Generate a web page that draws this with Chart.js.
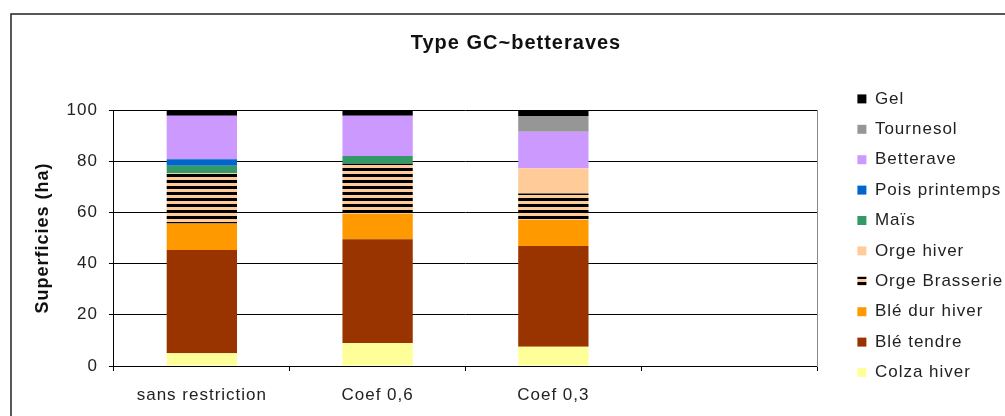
<!DOCTYPE html>
<html>
<head>
<meta charset="utf-8">
<script src="https://cdn.jsdelivr.net/npm/chart.js@4.4.1/dist/chart.umd.min.js"></script>
<style>
  html, body { margin: 0; padding: 0; background: #fff; }
  #wrap { width: 1005px; height: 416px; }
</style>
</head>
<body>
<div id="wrap"><canvas id="barChart"></canvas></div>
<script>
// values (ha)
const categories = ['sans restriction', 'Coef 0,6', 'Coef 0,3', ''];
const colzaHiver = [5, 9, 7.5, null];
const bleTendre = [40.3, 40.5, 39.4, null];
const bleDurHiver = [10.4, 10, 10.1, null];
const orgeBrasserie = [19.6, 19.5, 10.4, null];
const orgeHiver = [0, 0, 9.8, null];
const mais = [2.9, 3, 0, null];
const poisPrintemps = [2.6, 0, 0, null];
const betterave = [17, 15.8, 14.3, null];
const tournesol = [0, 0, 6.2, null];
const gel = [2.2, 2.2, 2.3, null];
const yTicks = [0, 20, 40, 60, 80, 100];

const FONT = "'Liberation Sans', Arial, sans-serif";
Chart.defaults.font.family = FONT;
Chart.defaults.color = '#222';

function stripes() {
    const c = document.createElement('canvas');
    c.width = 6; c.height = 6;
    const g = c.getContext('2d');
    g.fillStyle = '#FFCC99';
    g.fillRect(0, 0, 6, 6);
    g.fillStyle = '#000';
    g.fillRect(0, 0, 6, 3);
    return g.createPattern(c, 'repeat');
}

const ds = (label, data, color) => ({ label, data, backgroundColor: color, borderWidth: 0 });

const data = {
    labels: categories,
    datasets: [
        ds('Colza hiver', colzaHiver, '#FFFF99'),
        ds('Blé tendre', bleTendre, '#993300'),
        ds('Blé dur hiver', bleDurHiver, '#FF9900'),
        ds('Orge Brasserie', orgeBrasserie, stripes()),
        ds('Orge hiver', orgeHiver, '#FFCC99'),
        ds('Maïs', mais, '#339966'),
        ds('Pois printemps', poisPrintemps, '#0066CC'),
        ds('Betterave', betterave, '#CC99FF'),
        ds('Tournesol', tournesol, '#969696'),
        ds('Gel', gel, '#000000')
    ]
};

// wide-set lettering like the original, plus the outer frame
const look = {
    id: 'look',
    beforeLayout(chart) { chart.ctx.letterSpacing = '1px'; },
    beforeDraw(chart) {
        const c = chart.ctx;
        c.letterSpacing = '1px';
        c.save();
        c.strokeStyle = '#222';
        c.lineWidth = 1.5;
        c.strokeRect(11, 14, 1100, 500);
        c.restore();
    }
};

new Chart(document.getElementById('barChart'), {
    type: 'bar',
    data: data,
    plugins: [look],
    options: {
        responsive: true,
        maintainAspectRatio: false,
        animation: false,
        barPercentage: 0.4,
        categoryPercentage: 1,
        layout: { padding: { left: 27, right: 0, top: 0, bottom: -3.4 } },
        scales: {
            x: {
                stacked: true,
                grid: { drawOnChartArea: false, tickLength: 5, tickColor: '#000', offset: true },
                border: { color: '#000' },
                ticks: { font: { size: 17 }, padding: 14, maxRotation: 0, autoSkip: false }
            },
            y: {
                stacked: true,
                min: 0,
                max: 100,
                afterBuildTicks: s => { s.ticks = yTicks.map(v => ({ value: v })); },
                grid: { color: '#000', tickLength: 5, tickColor: '#000' },
                border: { color: '#000' },
                ticks: { font: { size: 17 }, padding: 11 },
                title: {
                    display: true,
                    text: 'Superficies (ha)',
                    color: '#111',
                    font: { size: 18, weight: 'bold' },
                    padding: { top: 5, bottom: 2 }
                }
            },
            y2: {
                position: 'right',
                min: 0,
                max: 100,
                grid: { drawOnChartArea: false, drawTicks: false },
                border: { color: '#888' },
                ticks: { display: false },
                afterFit: s => { s.width = 27; }
            }
        },
        plugins: {
            title: {
                display: true,
                text: 'Type GC~betteraves',
                color: '#111',
                font: { size: 20, weight: 'bold' },
                padding: { top: 31, bottom: 55 }
            },
            legend: {
                position: 'right',
                align: 'start',
                reverse: true,
                maxWidth: 161,
                title: { display: true, text: ' ', font: { size: 10 }, padding: { top: 65, bottom: 0 } },
                labels: { boxWidth: 9, boxHeight: 9, padding: 13.4, font: { size: 17 }, color: '#222' }
            },
            tooltip: { enabled: false }
        }
    }
});
</script>
</body>
</html>
